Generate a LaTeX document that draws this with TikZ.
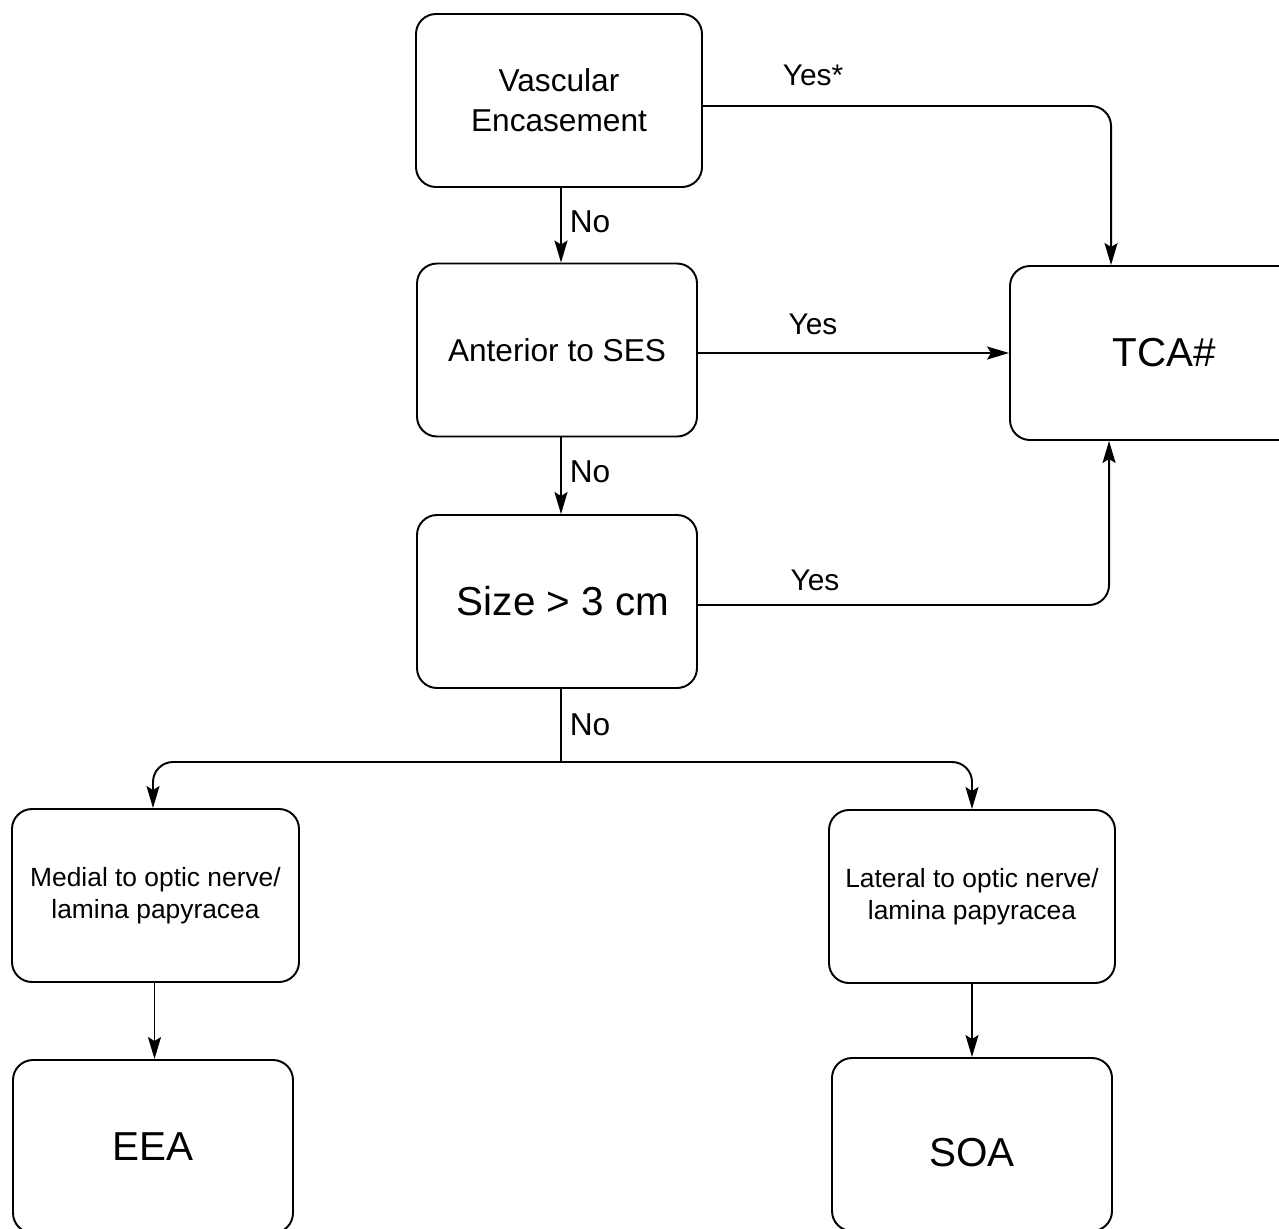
\documentclass[tikz,border=0pt]{standalone}
\usepackage{fontspec}
\setmainfont{Liberation Sans}
\usetikzlibrary{arrows.meta}

\begin{document}
\begin{tikzpicture}[
                box/.style={draw,line width=1.1pt,rounded corners=0.4cm,align=center,
                    inner sep=0pt,minimum width=5.6cm,minimum height=3.46cm},
                arr/.style={line width=1.1pt,-{Stealth[length=0.44cm,width=0.26cm,inset=0.08cm]}},
                lbl/.style={font=\fontsize{17}{20}\selectfont},
                big/.style={font=\fontsize{23}{27}\selectfont},
                mid/.style={font=\fontsize{18}{22.7}\selectfont},
                small/.style={font=\fontsize{15}{18}\selectfont}]
                \useasboundingbox (0,0) rectangle (25.58,-24.56);

                \node[box,mid,minimum width=5.72cm] (vasc) at (11.18,-2.01) {Vascular\\Encasement};
                \node[box,mid] (ant) at (11.14,-7.0) {Anterior to SES};
                \node[box,big] (size) at (11.14,-12.03) {\hspace*{0.24cm}Size > 3 cm};
                \node[box,big,minimum width=6.0cm,minimum height=3.48cm] (tca) at (23.2,-7.06) {\hspace*{0.16cm}TCA\#};
                \node[box,small,minimum width=5.74cm] (med) at (3.11,-17.91) {Medial to optic nerve/\\lamina papyracea};
                \node[box,small,minimum width=5.72cm] (lat) at (19.44,-17.93) {Lateral to optic nerve/\\lamina papyracea};
                \node[box,big] (eea) at (3.06,-22.93) {EEA};
                \node[box,big] (soa) at (19.44,-22.89) {\rule{0pt}{0.9cm}SOA};

                \coordinate (split) at (11.22,-15.24);

                \draw[arr,rounded corners=0.4cm] ([yshift=-0.11cm]vasc.east) -| ([xshift=2.04cm]tca.north west);
                \draw[arr] ([xshift=0.04cm]vasc.south) -- ([xshift=0.08cm]ant.north);
                \draw[arr] ([yshift=-0.06cm]ant.east) -- ([yshift=-0.06cm]ant.east -| tca.west);
                \draw[arr] ([xshift=0.08cm]ant.south) -- ([xshift=0.08cm]size.north);
                \draw[arr,rounded corners=0.4cm] ([yshift=-0.07cm]size.east) -| ([xshift=2.0cm]tca.south west);
                \draw[line width=1.1pt] ([xshift=0.08cm]size.south) -- (split);
                \draw[arr,rounded corners=0.4cm] (split) -| ([xshift=-0.05cm]med.north);
                \draw[arr,rounded corners=0.4cm] (split) -| (lat.north);
                \draw[arr] ([xshift=-0.02cm]med.south) -- ([xshift=0.03cm]eea.north);
                \draw[arr] (lat.south) -- (soa.north);

                \node[lbl] (yes1) at (16.26,-1.5) {Yes*};
                \node[lbl] (yes2) at (16.26,-6.48) {Yes};
                \node[lbl] (yes3) at (16.3,-11.6) {Yes};
                \node[mid] (no1) at (11.8,-4.44) {No};
                \node[mid] (no2) at (11.8,-9.44) {No};
                \node[mid] (no3) at (11.8,-14.5) {No};

            \end{tikzpicture}
\end{document}
